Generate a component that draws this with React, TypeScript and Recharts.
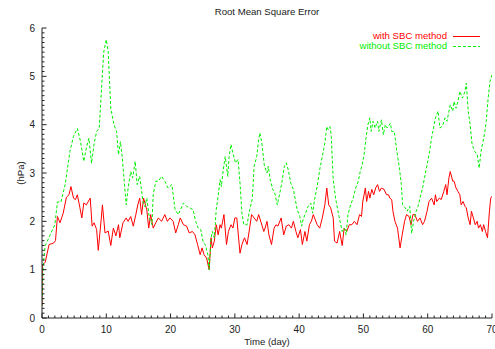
import { LineChart, Line, XAxis, YAxis } from "recharts";

// RMSE (hPa), day by day
const withoutDays = [
  0, 0.2, 0.5, 1.2, 2.0, 2.4, 2.95, 3.6, 4.35, 4.9, 5.5, 6.0, 6.5, 6.9, 7.3, 7.7, 8.1, 8.5, 8.9, 9.3,
  9.6, 10.0, 10.3, 10.7, 11.2, 11.6, 11.9, 12.2, 12.5, 13.1, 13.4, 13.8, 14.1, 14.5, 14.8, 15.2, 15.7, 16.0, 16.3, 16.7,
  17.1, 17.3, 17.7, 18.1, 18.6, 19.1, 19.6, 20.2, 20.7, 21.2, 22.0, 22.5, 23.0, 23.5, 23.9, 24.3, 24.7, 25.1, 25.4, 25.8,
  26.0, 26.3, 26.5, 26.8, 27.1, 27.4, 27.7, 27.9, 28.2, 28.5, 28.9, 29.1, 29.4, 29.7, 30.1, 30.5, 30.8, 31.1, 31.4, 31.9,
  32.3, 32.7, 33.0, 33.4, 33.7, 33.9, 34.2, 34.6, 35.0, 35.2, 35.5, 35.9, 36.2, 36.6, 37.0, 37.3, 37.7, 38.0, 38.3, 38.7,
  39.1, 39.4, 39.7, 40.1, 40.4, 40.6, 41.0, 41.4, 41.8, 42.1, 42.4, 42.8, 43.2, 43.6, 44.0, 44.3, 44.5, 44.8, 45.0, 45.3,
  45.7, 46.2, 46.7, 47.0, 47.3, 47.6, 48.0, 48.4, 48.8, 49.2, 49.5, 49.8, 50.1, 50.4, 50.7, 51.0, 51.2, 51.5, 51.8, 52.2,
  52.4, 52.8, 53.1, 53.4, 53.7, 54.2, 54.4, 54.8, 55.2, 55.6, 55.9, 56.1, 56.5, 56.8, 57.2, 57.5, 57.8, 58.2, 58.5, 58.8,
  59.2, 59.5, 59.9, 60.3, 60.6, 61.0, 61.2, 61.6, 61.9, 62.3, 62.7, 63.0, 63.2, 63.5, 63.9, 64.1, 64.4, 64.7, 65.0, 65.4,
  65.8, 66.0, 66.3, 66.6, 66.9, 67.3, 67.7, 68.0, 68.3, 68.6, 68.9, 69.1, 69.4, 69.7, 70.0,
];
const withoutRmse = [
  0.25, 1.1, 1.5, 1.7, 1.93, 2.4, 2.4, 2.76, 3.45, 3.76, 3.92, 3.65, 3.24, 3.52, 3.72, 3.2, 3.6, 3.86, 3.93, 4.83,
  5.5, 5.76, 5.5, 4.33, 4.0, 3.86, 3.38, 3.65, 3.3, 2.34, 2.69, 3.03, 2.9, 3.24, 2.76, 2.93, 2.41, 2.3, 2.48, 2.07,
  1.93, 2.55, 2.83, 2.83, 2.93, 2.83, 2.69, 2.76, 2.24, 2.14, 2.38, 2.31, 2.28, 2.24, 2.0, 1.86, 1.83, 1.55, 1.52, 1.31,
  1.0, 1.66, 1.79, 1.66, 2.24, 2.52, 2.86, 2.72, 3.07, 3.34, 2.93, 3.34, 3.59, 3.41, 3.21, 3.28, 2.79, 2.17, 1.93, 1.93,
  2.24, 2.45, 3.14, 3.34, 3.69, 3.83, 3.62, 3.14, 3.0, 3.14, 2.86, 2.66, 2.59, 2.34, 2.59, 2.79, 3.14, 3.21, 3.07, 2.79,
  2.66, 2.45, 2.24, 2.1, 1.9, 2.03, 2.17, 2.31, 2.38, 2.17, 2.45, 2.72, 3.07, 3.34, 3.62, 3.96, 3.9, 3.96, 3.76, 2.86,
  2.45, 2.1, 1.79, 1.86, 1.72, 2.14, 2.34, 2.48, 2.69, 2.83, 3.03, 3.17, 3.38, 3.72, 4.0, 4.14, 3.86, 4.07, 3.93, 4.07,
  3.86, 4.1, 3.79, 4.0, 3.93, 4.03, 3.86, 3.86, 3.45, 3.1, 2.76, 2.34, 2.28, 2.21, 2.31, 1.75, 2.0, 2.21, 2.31, 2.48,
  2.69, 2.9, 3.17, 3.45, 3.72, 4.0, 4.14, 4.28, 3.93, 3.97, 4.14, 4.07, 4.21, 4.41, 4.28, 4.48, 4.34, 4.48, 4.69, 4.55,
  4.69, 4.86, 4.28, 4.0, 3.59, 3.45, 3.38, 3.1, 3.45, 3.65, 3.86, 4.07, 4.55, 4.9, 5.03,
];

const withDays = [
  0, 0.05, 0.5, 1.1, 1.8, 2.1, 2.4, 2.8, 3.3, 3.8, 4.2, 4.5, 4.9, 5.2, 5.5, 5.9, 6.2, 6.5, 6.9, 7.5,
  7.8, 8.1, 8.5, 8.75, 9.2, 9.4, 9.8, 10.3, 10.7, 11.1, 11.5, 11.9, 12.1, 12.6, 13.1, 13.4, 13.8, 14.2, 14.6, 14.9,
  15.2, 15.5, 15.8, 16.3, 16.6, 16.9, 17.3, 17.7, 18.1, 18.6, 19.1, 19.5, 19.9, 20.4, 20.8, 21.2, 21.5, 22.0, 22.5, 22.9,
  23.4, 23.8, 24.2, 24.6, 24.9, 25.2, 25.6, 26.0, 26.3, 26.5, 26.8, 27.1, 27.4, 27.7, 27.9, 28.3, 28.7, 29.0, 29.4, 29.7,
  30.0, 30.3, 30.8, 31.1, 31.5, 31.9, 32.3, 32.6, 33.0, 33.4, 33.7, 34.1, 34.5, 34.7, 35.0, 35.3, 35.7, 36.1, 36.4, 36.7,
  37.2, 37.6, 38.0, 38.4, 38.8, 39.1, 39.5, 39.8, 40.2, 40.5, 40.9, 41.2, 41.6, 41.9, 42.2, 42.4, 42.8, 43.2, 43.6, 44.0,
  44.3, 44.6, 44.9, 45.3, 45.5, 45.9, 46.3, 46.7, 47.0, 47.4, 47.8, 48.2, 48.6, 49.0, 49.4, 49.7, 49.9, 50.3, 50.5, 50.8,
  51.0, 51.3, 51.6, 51.9, 52.2, 52.5, 52.8, 53.2, 53.6, 53.9, 54.1, 54.4, 54.6, 54.9, 55.3, 55.7, 56.0, 56.4, 56.7, 57.1,
  57.4, 57.7, 58.0, 58.4, 58.8, 59.2, 59.5, 59.9, 60.2, 60.6, 61.0, 61.2, 61.4, 61.8, 62.1, 62.5, 62.8, 63.0, 63.3, 63.5,
  63.9, 64.1, 64.4, 64.7, 65.0, 65.2, 65.5, 65.8, 66.0, 66.3, 66.6, 66.8, 67.1, 67.4, 67.7, 67.9, 68.2, 68.5, 68.7, 69.0,
  69.3, 69.6, 69.8, 70.0,
];
const withRmse = [
  0.25, 1.1, 1.15, 1.52, 1.55, 1.6, 2.1, 1.97, 2.17, 2.5, 2.55, 2.72, 2.48, 2.45, 2.55, 2.28, 2.07, 2.38, 2.34, 2.48,
  1.9, 1.97, 1.83, 1.4, 2.03, 2.34, 1.76, 1.8, 1.5, 1.86, 1.7, 1.93, 1.66, 1.97, 2.07, 2.0, 2.1, 1.9, 2.14, 2.34,
  2.48, 2.14, 2.48, 2.24, 1.86, 2.14, 1.86, 1.97, 2.07, 2.0, 2.14, 2.0, 2.07, 2.0, 1.76, 1.93, 2.07, 1.93, 1.9, 1.76,
  1.79, 1.72, 1.52, 1.31, 1.45, 1.31, 1.24, 1.0, 1.66, 1.45, 1.59, 1.93, 1.72, 1.93, 1.86, 2.14, 1.52, 1.79, 1.93, 1.86,
  2.07, 2.07, 1.34, 1.52, 1.66, 1.52, 1.86, 2.14, 2.07, 2.0, 2.14, 1.97, 1.79, 1.86, 2.0, 1.72, 1.52, 1.86, 1.93, 1.9,
  2.07, 1.72, 1.9, 1.93, 1.86, 2.0, 1.79, 1.66, 1.83, 1.52, 1.79, 1.59, 1.93, 2.0, 2.14, 2.07, 1.93, 1.86, 2.07, 2.34,
  2.69, 2.34, 2.28, 2.07, 1.59, 1.55, 1.79, 1.5, 1.86, 1.79, 1.93, 1.93, 2.0, 1.93, 2.14, 2.1, 2.41, 2.69, 2.41, 2.62,
  2.48, 2.66, 2.55, 2.69, 2.76, 2.62, 2.69, 2.66, 2.55, 2.55, 2.48, 2.45, 2.2, 2.0, 1.86, 1.45, 1.7, 2.0, 2.14, 2.1,
  1.93, 2.14, 2.14, 2.0, 2.07, 1.93, 2.0, 2.21, 2.41, 2.48, 2.34, 2.55, 2.41, 2.48, 2.45, 2.62, 2.76, 2.55, 2.9, 3.03,
  2.83, 2.83, 2.69, 2.62, 2.55, 2.34, 2.41, 2.31, 2.28, 2.07, 1.93, 2.21, 2.07, 1.93, 2.0, 1.86, 1.93, 1.79, 1.93, 1.79,
  1.66, 2.21, 2.48, 2.52,
];

const xMajorTicks = [0, 10, 20, 30, 40, 50, 60, 70];
const yMajorTicks = [0, 1, 2, 3, 4, 5, 6];

const withSbc = withDays.map((day, i) => ({ day, withSbc: withRmse[i] }));
const withoutSbc = withoutDays.map((day, i) => ({ day, withoutSbc: withoutRmse[i] }));

// minor ticks: every day on x, every 0.1 hPa on y
const xTicks = Array.from({ length: 71 }, (_, i) => i);
const yTicks = Array.from({ length: 61 }, (_, i) => i / 10);

const AXIS = "#222";
const FONT = "'Liberation Sans', Arial, Helvetica, sans-serif";
const RED = "#ff0000";
const GREEN = "#00ee00";

const isMajorY = (v: number) => yMajorTicks.some((t) => Math.abs(t - v) < 1e-6);

function BottomTick({ x, y, payload }: any) {
  const major = xMajorTicks.includes(payload.value);
  return (
    <g>
      <line x1={x} x2={x} y1={y} y2={y - (major ? 4.5 : 2.5)} stroke={AXIS} />
      {major && (
        <text x={x} y={y + 15} textAnchor="middle" fontSize={10} fill="#222" fontFamily={FONT}>
          {payload.value}
        </text>
      )}
    </g>
  );
}

function TopTick({ x, y, payload }: any) {
  const major = xMajorTicks.includes(payload.value);
  return <line x1={x} x2={x} y1={y} y2={y + (major ? 4.5 : 2.5)} stroke={AXIS} />;
}

function LeftTick({ x, y, payload }: any) {
  const major = isMajorY(payload.value);
  return (
    <g>
      <line x1={x} x2={x + (major ? 4.5 : 2.5)} y1={y} y2={y} stroke={AXIS} />
      {major && (
        <text x={x - 7} y={y + 3.5} textAnchor="end" fontSize={10} fill="#222" fontFamily={FONT}>
          {Math.round(payload.value)}
        </text>
      )}
    </g>
  );
}

function RightTick({ x, y, payload }: any) {
  const major = isMajorY(payload.value);
  return <line x1={x} x2={x - (major ? 4.5 : 2.5)} y1={y} y2={y} stroke={AXIS} />;
}

export default function App() {
  return (
    <div style={{ position: "relative", width: 495, height: 349, fontFamily: FONT, background: "#fff" }}>
      <style>{"body{margin:0}"}</style>
      <LineChart width={495} height={349} margin={{ top: 28, right: 3, bottom: 0, left: 0 }}>
        <XAxis
          dataKey="day"
          type="number"
          domain={[0, 70]}
          ticks={xTicks}
          interval={0}
          allowDataOverflow
          height={31}
          tickSize={0}
          tickMargin={0}
          tickLine={false}
          tick={<BottomTick />}
          stroke={AXIS}
        />
        <XAxis
          xAxisId="top"
          orientation="top"
          type="number"
          domain={[0, 70]}
          ticks={xTicks}
          interval={0}
          allowDataOverflow
          height={0}
          tickSize={0}
          tickMargin={0}
          tickLine={false}
          tick={<TopTick />}
          stroke={AXIS}
        />
        <YAxis
          type="number"
          domain={[0, 6]}
          ticks={yTicks}
          interval={0}
          allowDataOverflow
          width={42}
          tickSize={0}
          tickMargin={0}
          tickLine={false}
          tick={<LeftTick />}
          stroke={AXIS}
        />
        <YAxis
          yAxisId="right"
          orientation="right"
          type="number"
          domain={[0, 6]}
          ticks={yTicks}
          interval={0}
          allowDataOverflow
          width={0}
          tickSize={0}
          tickMargin={0}
          tickLine={false}
          tick={<RightTick />}
          stroke={AXIS}
        />
        <Line
          data={withSbc}
          dataKey="withSbc"
          type="linear"
          dot={false}
          stroke={RED}
          strokeWidth={1}
          isAnimationActive={false}
        />
        <Line
          data={withoutSbc}
          dataKey="withoutSbc"
          type="linear"
          dot={false}
          stroke={GREEN}
          strokeWidth={1}
          strokeDasharray="3 2"
          isAnimationActive={false}
        />
      </LineChart>

      <div style={{ position: "absolute", top: 6, left: 42, width: 450, textAlign: "center", fontSize: 9.6, color: "#222" }}>
        Root Mean Square Error
      </div>
      <div style={{ position: "absolute", top: 336, left: 42, width: 450, textAlign: "center", fontSize: 9.6, color: "#222" }}>
        Time (day)
      </div>
      <div
        style={{
          position: "absolute",
          left: 20,
          top: 173,
          fontSize: 9.6,
          color: "#222",
          transform: "translate(-50%, -50%) rotate(-90deg)",
          whiteSpace: "nowrap",
        }}
      >
        (hPa)
      </div>

      <div style={{ position: "absolute", top: 31, right: 48, textAlign: "right", fontSize: 9.6, lineHeight: "10px" }}>
        <div style={{ color: RED }}>with SBC method</div>
        <div style={{ color: GREEN }}>without SBC method</div>
      </div>
      <svg style={{ position: "absolute", top: 31, left: 452 }} width={30} height={20}>
        <line x1={1} x2={28} y1={5.5} y2={5.5} stroke={RED} strokeWidth={1} />
        <line x1={1} x2={28} y1={15.5} y2={15.5} stroke={GREEN} strokeWidth={1} strokeDasharray="3 2" />
      </svg>
    </div>
  );
}
